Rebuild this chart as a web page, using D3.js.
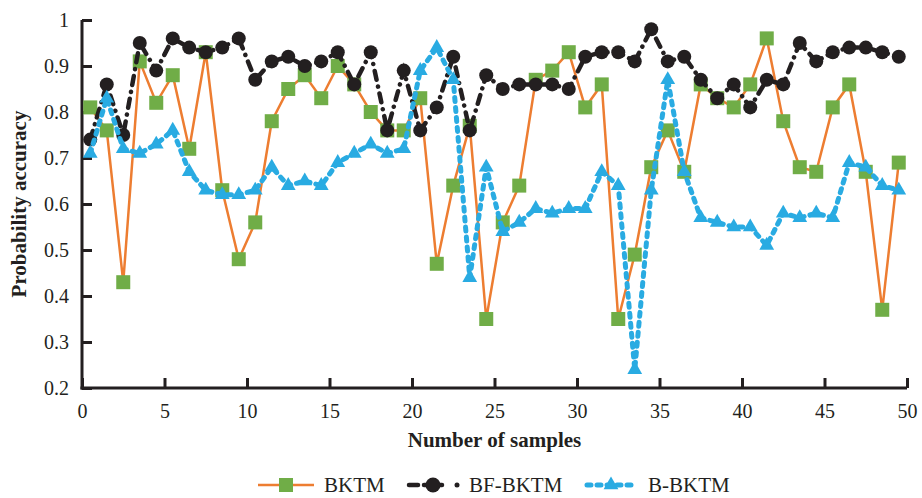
<!DOCTYPE html>
<html><head><meta charset="utf-8">
<script src="https://cdn.jsdelivr.net/npm/d3@7"></script>
<style>
html,body{margin:0;padding:0;background:#fff;}
svg text{font-family:"Liberation Serif","Times New Roman",serif;fill:#231F20;}
</style></head>
<body>
<svg id="chart" width="922" height="498"></svg>
<script>
const samples = d3.range(50).map(i => i + 0.5);
const bktm = [0.81,0.76,0.43,0.91,0.82,0.88,0.72,0.93,0.63,0.48,0.56,0.78,0.85,0.88,0.83,0.90,0.86,0.80,0.76,0.76,0.83,0.47,0.64,0.77,0.35,0.56,0.64,0.87,0.89,0.93,0.81,0.86,0.35,0.49,0.68,0.76,0.67,0.86,0.83,0.81,0.86,0.96,0.78,0.68,0.67,0.81,0.86,0.67,0.37,0.69];
const bfBktm = [0.74,0.86,0.75,0.95,0.89,0.96,0.94,0.93,0.94,0.96,0.87,0.91,0.92,0.90,0.91,0.93,0.86,0.93,0.76,0.89,0.76,0.81,0.92,0.76,0.88,0.85,0.86,0.86,0.86,0.85,0.92,0.93,0.93,0.91,0.98,0.91,0.92,0.87,0.83,0.86,0.81,0.87,0.86,0.95,0.91,0.93,0.94,0.94,0.93,0.92];
const bBktm = [0.71,0.83,0.72,0.71,0.73,0.76,0.67,0.63,0.62,0.62,0.63,0.68,0.64,0.65,0.64,0.69,0.71,0.73,0.71,0.72,0.89,0.94,0.87,0.44,0.68,0.54,0.56,0.59,0.58,0.59,0.59,0.67,0.64,0.24,0.63,0.87,0.67,0.57,0.56,0.55,0.55,0.51,0.58,0.57,0.58,0.57,0.69,0.68,0.64,0.63];
const xTicks = [0,5,10,15,20,25,30,35,40,45,50];
const yTicks = [0.2,0.3,0.4,0.5,0.6,0.7,0.8,0.9,1];
const seriesNames = ["BKTM","BF-BKTM","B-BKTM"];

const svg = d3.select("#chart");
const mLeft = 82, mRight = 907, mTop = 20, mBottom = 388;
const x = d3.scaleLinear().domain([0,50]).range([mLeft,mRight]);
const y = d3.scaleLinear().domain([0.2,1]).range([mBottom,mTop]);
const ink = "#231F20";

// axes
const xAxis = svg.append("g").attr("transform",`translate(0,${mBottom})`)
  .call(d3.axisBottom(x).tickValues(xTicks).tickSize(-10).tickPadding(16).tickFormat(d3.format("d")));
const yAxis = svg.append("g").attr("transform",`translate(${mLeft},0)`)
  .call(d3.axisLeft(y).tickValues(yTicks).tickSize(-10).tickPadding(13).tickFormat(d => d===1 ? "1" : d3.format(".1f")(d)));
[xAxis,yAxis].forEach(a => {
  a.select(".domain").attr("stroke",ink).attr("stroke-width",3);
  a.selectAll(".tick line").attr("stroke",ink).attr("stroke-width",3);
  a.selectAll(".tick text").attr("font-size",20).attr("font-family","Liberation Serif").attr("fill",ink);
});
xAxis.select(".domain").attr("d",`M${mLeft-1.5},0H${mRight}`);
yAxis.select(".domain").attr("d",`M0,${mTop}V${mBottom+1.5}`);

// titles
svg.append("text").attr("x",(mLeft+mRight)/2).attr("y",447).attr("text-anchor","middle")
  .attr("font-size",21).attr("font-weight","bold").text("Number of samples");
svg.append("text").attr("transform",`translate(26,${(mTop+mBottom)/2}) rotate(-90)`).attr("text-anchor","middle")
  .attr("font-size",21).attr("font-weight","bold").text("Probability accuracy");

const orange = "#ED7D31", green = "#70AD47", blue = "#29ABE2";
const line = d3.line().x((d,i)=>x(samples[i])).y(d=>y(d));

// BKTM
svg.append("path").datum(bktm).attr("d",line).attr("fill","none").attr("stroke",orange).attr("stroke-width",2.5);
svg.append("g").selectAll("rect").data(bktm).join("rect")
  .attr("x",(d,i)=>x(samples[i])-7).attr("y",d=>y(d)-7).attr("width",14).attr("height",14).attr("fill",green);

// BF-BKTM
svg.append("path").datum(bfBktm).attr("d",line).attr("fill","none").attr("stroke",ink).attr("stroke-width",4.5)
  .attr("stroke-linecap","round").attr("stroke-dasharray","9,7,0.1,7");
svg.append("g").selectAll("circle").data(bfBktm).join("circle")
  .attr("cx",(d,i)=>x(samples[i])).attr("cy",d=>y(d)).attr("r",7).attr("fill",ink);

// B-BKTM
svg.append("path").datum(bBktm).attr("d",line).attr("fill","none").attr("stroke",blue).attr("stroke-width",5)
  .attr("stroke-linecap","round").attr("stroke-dasharray","4,6");
const tri = d3.symbol().type(d3.symbolTriangle).size(95);
svg.append("g").selectAll("path").data(bBktm).join("path")
  .attr("d",tri).attr("transform",(d,i)=>`translate(${x(samples[i])},${y(d)})`).attr("fill",blue);

// legend
const ly = 485;
const lg = svg.append("g");
lg.append("line").attr("x1",258).attr("x2",314).attr("y1",ly).attr("y2",ly).attr("stroke",orange).attr("stroke-width",2.5);
lg.append("rect").attr("x",286-7).attr("y",ly-7).attr("width",14).attr("height",14).attr("fill",green);
lg.append("text").attr("x",324).attr("y",ly+7).attr("font-size",21).text(seriesNames[0]);
lg.append("line").attr("x1",409).attr("x2",418).attr("y1",ly).attr("y2",ly).attr("stroke",ink).attr("stroke-width",4.5)
  .attr("stroke-linecap","round");
lg.append("line").attr("x1",424).attr("x2",442).attr("y1",ly).attr("y2",ly).attr("stroke",ink).attr("stroke-width",4.5)
  .attr("stroke-linecap","round");
lg.append("circle").attr("cx",433).attr("cy",ly).attr("r",7.5).attr("fill",ink);
lg.append("circle").attr("cx",457).attr("cy",ly).attr("r",2.5).attr("fill",ink);
lg.append("text").attr("x",469).attr("y",ly+7).attr("font-size",21).text(seriesNames[1]);
lg.append("line").attr("x1",587).attr("x2",637).attr("y1",ly).attr("y2",ly).attr("stroke",blue).attr("stroke-width",5)
  .attr("stroke-linecap","round").attr("stroke-dasharray","4,6");
lg.append("path").attr("d",tri).attr("transform",`translate(611,${ly})`).attr("fill",blue);
lg.append("text").attr("x",648).attr("y",ly+7).attr("font-size",21).text(seriesNames[2]);
</script>
</body></html>
